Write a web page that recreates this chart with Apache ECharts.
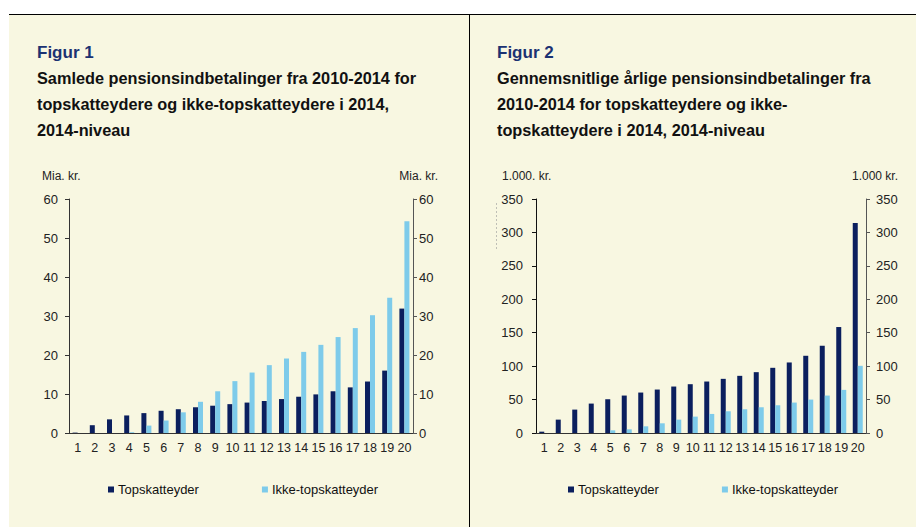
<!DOCTYPE html>
<html>
<head>
<meta charset="utf-8">
<script src="https://cdn.jsdelivr.net/npm/echarts@6/dist/echarts.min.js"></script>
<style>
html, body { margin: 0; padding: 0; background: #fff; }
#chart { width: 916px; height: 527px; }
</style>
</head>
<body>
<div id="chart"></div>
<script>
// percentile groups 1..20
var categories = ['1','2','3','4','5','6','7','8','9','10','11','12','13','14','15','16','17','18','19','20'];
var seriesNames = ['Topskatteyder', 'Ikke-topskatteyder'];

// Figur 1: samlede indbetalinger, mia. kr.
var totalTop  = [0.1, 2.0, 3.5, 4.5, 5.1, 5.7, 6.1, 6.6, 7.0, 7.4, 7.8, 8.2, 8.7, 9.3, 9.9, 10.7, 11.7, 13.2, 16.0, 31.9];
var totalIkke = [0, 0, 0, 0.2, 1.9, 3.2, 5.3, 8.0, 10.7, 13.3, 15.5, 17.4, 19.1, 20.8, 22.6, 24.6, 26.9, 30.2, 34.7, 54.3];

// Figur 2: gennemsnitlige aarlige indbetalinger, 1.000 kr.
var avgTop  = [2, 20, 35, 44, 50.5, 56, 60.5, 65, 69.5, 73, 77, 81, 85.5, 91, 97.5, 105.5, 115.5, 130.5, 158.5, 314];
var avgIkke = [0, 0, 0, 0, 4, 5.5, 10, 14.5, 20, 24.5, 28.5, 32.5, 35.5, 38.5, 41.5, 45.5, 50, 56, 64.5, 100.5];

var titles1 = ['Samlede pensionsindbetalinger fra 2010-2014 for',
               'topskatteydere og ikke-topskatteydere i 2014,',
               '2014-niveau'];
var titles2 = ['Gennemsnitlige årlige pensionsindbetalinger fra',
               '2010-2014 for topskatteydere og ikke-',
               'topskatteydere i 2014, 2014-niveau'];

var darkBlue = '#0b1f5e';
var lightBlue = '#7ecbea';
var cream = '#f8f7e1';
var fontFam = 'Liberation Sans';

var chart = echarts.init(document.getElementById('chart'), null, { renderer: 'svg' });

function xAxisFor(grid) {
  return {
    type: 'category', gridIndex: grid, data: categories,
    axisLine: { lineStyle: { color: '#333', width: 1 } },
    axisTick: { length: 4, lineStyle: { color: '#333' } },
    axisLabel: { interval: 0, margin: 8, fontSize: 12.5, color: '#222', fontFamily: fontFam }
  };
}

function yAxisFor(grid, pos, max, interval, margin, lineColor) {
  return {
    type: 'value', gridIndex: grid, position: pos,
    min: 0, max: max, interval: interval,
    splitLine: { show: false },
    axisLine: { show: true, lineStyle: { color: lineColor } },
    axisTick: { show: true, length: 4, lineStyle: { color: lineColor } },
    axisLabel: { margin: margin, fontSize: 13, color: '#222', fontFamily: fontFam }
  };
}

function barSeries(name, data, xi, yi, color) {
  return {
    name: name, type: 'bar', xAxisIndex: xi, yAxisIndex: yi,
    data: data, barWidth: 5, barGap: '0%',
    itemStyle: { color: color }
  };
}

function txt(x, y, text, size, weight, color, align) {
  return {
    type: 'text', x: x, y: y,
    style: {
      text: text, fontFamily: fontFam, fontSize: size, fontWeight: weight,
      fill: color, textAlign: align || 'left', textVerticalAlign: 'middle'
    }
  };
}

function titleTexts(x, head, lines) {
  var out = [txt(x, 52, head, 17, 'bold', '#1b3272')];
  lines.forEach(function (t, i) {
    out.push(txt(x, 78 + i * 25.8, t, 16.3, 'bold', '#111'));
  });
  return out;
}

var graphics = [
  { type: 'rect', shape: { x: 9, y: 14, width: 907, height: 513 }, style: { fill: cream }, z: -10 },
  { type: 'line', shape: { x1: 9, y1: 14.5, x2: 916, y2: 14.5 }, style: { stroke: '#000', lineWidth: 1 } },
  { type: 'line', shape: { x1: 469.5, y1: 14, x2: 469.5, y2: 527 }, style: { stroke: '#000', lineWidth: 1 } },
  { type: 'line', shape: { x1: 496.5, y1: 203, x2: 496.5, y2: 250 }, style: { stroke: '#999', lineWidth: 0.6, lineDash: [2, 2] } },
  txt(42, 176, 'Mia. kr.', 12, 'normal', '#222'),
  txt(438, 176, 'Mia. kr.', 12, 'normal', '#222', 'right'),
  txt(502, 176, '1.000. kr.', 12, 'normal', '#222'),
  txt(898, 176, '1.000 kr.', 12, 'normal', '#222', 'right')
].concat(titleTexts(37, 'Figur 1', titles1), titleTexts(497, 'Figur 2', titles2));

var legendStyle = {
  data: seriesNames, top: 478, icon: 'rect', itemWidth: 6, itemHeight: 6,
  itemGap: 63, selectedMode: false,
  textStyle: { fontFamily: fontFam, fontSize: 13, color: '#111', padding: [0, 0, 0, -1] }
};

chart.setOption({
  animation: false,
  backgroundColor: 'transparent',
  grid: [
    { left: 69, right: 503, top: 199, bottom: 94, containLabel: false },
    { left: 536, right: 50, top: 199, bottom: 94, containLabel: false }
  ],
  legend: [
    Object.assign({ left: 103 }, legendStyle),
    Object.assign({ left: 563 }, legendStyle)
  ],
  xAxis: [xAxisFor(0), xAxisFor(1)],
  yAxis: [
    yAxisFor(0, 'left', 60, 10, 11, '#333'),
    yAxisFor(0, 'right', 60, 10, 6, '#555'),
    yAxisFor(1, 'left', 350, 50, 13, '#111'),
    yAxisFor(1, 'right', 350, 50, 10, '#555')
  ],
  series: [
    barSeries(seriesNames[0], totalTop, 0, 0, darkBlue),
    barSeries(seriesNames[1], totalIkke, 0, 0, lightBlue),
    barSeries(seriesNames[0], avgTop, 1, 2, darkBlue),
    barSeries(seriesNames[1], avgIkke, 1, 2, lightBlue)
  ],
  graphic: graphics
});
</script>
</body>
</html>
